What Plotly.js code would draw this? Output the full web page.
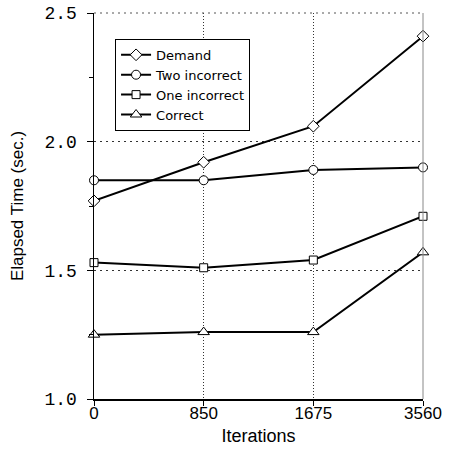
<!DOCTYPE html>
<html>
<head>
<meta charset="utf-8">
<script src="https://cdn.plot.ly/plotly-3.0.1.min.js"></script>
<style>html,body{margin:0;padding:0;background:#fff;}#chart{width:449px;height:456px;}</style>
</head>
<body>
<div id="chart"></div>
<script>
var iterations = ["0", "850", "1675", "3560"];
var demand = [1.77, 1.92, 2.06, 2.41];
var twoIncorrect = [1.85, 1.85, 1.89, 1.90];
var oneIncorrect = [1.53, 1.51, 1.54, 1.71];
var correct = [1.25, 1.26, 1.26, 1.57];
var seriesNames = ["Demand", "Two incorrect", "One incorrect", "Correct"];
var yTickVals = [1.0, 1.5, 2.0, 2.5];
var yTickText = ["1.0", "1.5", "2.0", "2.5"];

var seriesValues = [demand, twoIncorrect, oneIncorrect, correct];
var symbols = ["diamond", "circle", "square", "triangle-up"];
var sizes = [9, 9, 8, 10];

var traces = seriesValues.map(function (vals, i) {
  return {
    type: "scatter",
    mode: "lines+markers",
    name: seriesNames[i],
    x: iterations,
    y: vals,
    cliponaxis: false,
    line: {color: "#000", width: 2},
    marker: {symbol: symbols[i], size: sizes[i], color: "#fff", line: {color: "#000", width: 1}}
  };
});

var sans = "Liberation Sans, Arial, sans-serif";
var layout = {
  width: 449,
  height: 456,
  margin: {l: 94, r: 26, t: 13, b: 57},
  paper_bgcolor: "#fff",
  plot_bgcolor: "#fff",
  showlegend: true,
  legend: {
    x: 0.064, y: 0.933, xanchor: "left", yanchor: "top",
    bgcolor: "#fff", bordercolor: "#000", borderwidth: 1,
    font: {family: "DejaVu Sans, " + sans, size: 13, color: "#000"},
    itemwidth: 30, tracegroupgap: 0
  },
  xaxis: {
    type: "category",
    range: [0, 3],
    showline: true, linecolor: "#000", linewidth: 1.5,
    ticks: "outside", ticklen: 5, tickcolor: "#000",
    ticklabelstandoff: -7,
    showgrid: true, gridcolor: "#333", griddash: "1px,2px", gridwidth: 1,
    tickfont: {family: sans, size: 17, color: "#000"},
    title: {text: "Iterations", font: {family: sans, size: 18, color: "#000"}, standoff: 7},
    zeroline: false, fixedrange: true
  },
  yaxis: {
    range: [1.0, 2.5],
    tickmode: "array", tickvals: yTickVals, ticktext: yTickText,
    showline: true, linecolor: "#000", linewidth: 1.5,
    ticks: "outside", ticklen: 6, tickcolor: "#000",
    ticklabelstandoff: 6,
    minor: {ticks: "outside", ticklen: 4, tickcolor: "#000", dtick: 0.25, tick0: 1.0, showgrid: false},
    showgrid: true, gridcolor: "#333", griddash: "2px,4px", gridwidth: 1,
    tickfont: {family: "Liberation Mono, Courier New, monospace", size: 18, color: "#000"},
    title: {text: "Elapsed Time (sec.)", font: {family: sans, size: 17, color: "#000"}, standoff: 16},
    zeroline: false, fixedrange: true
  },
  shapes: [
    {type: "line", xref: "paper", yref: "paper", x0: 1, x1: 1, y0: 0, y1: 1, line: {color: "#888", width: 1}},
    {type: "line", xref: "paper", yref: "paper", x0: 0, x1: 1, y0: 1, y1: 1, line: {color: "#555", width: 1, dash: "2px,4px"}}
  ]
};

Plotly.newPlot("chart", traces, layout, {displayModeBar: false, staticPlot: true});
</script>
</body>
</html>
